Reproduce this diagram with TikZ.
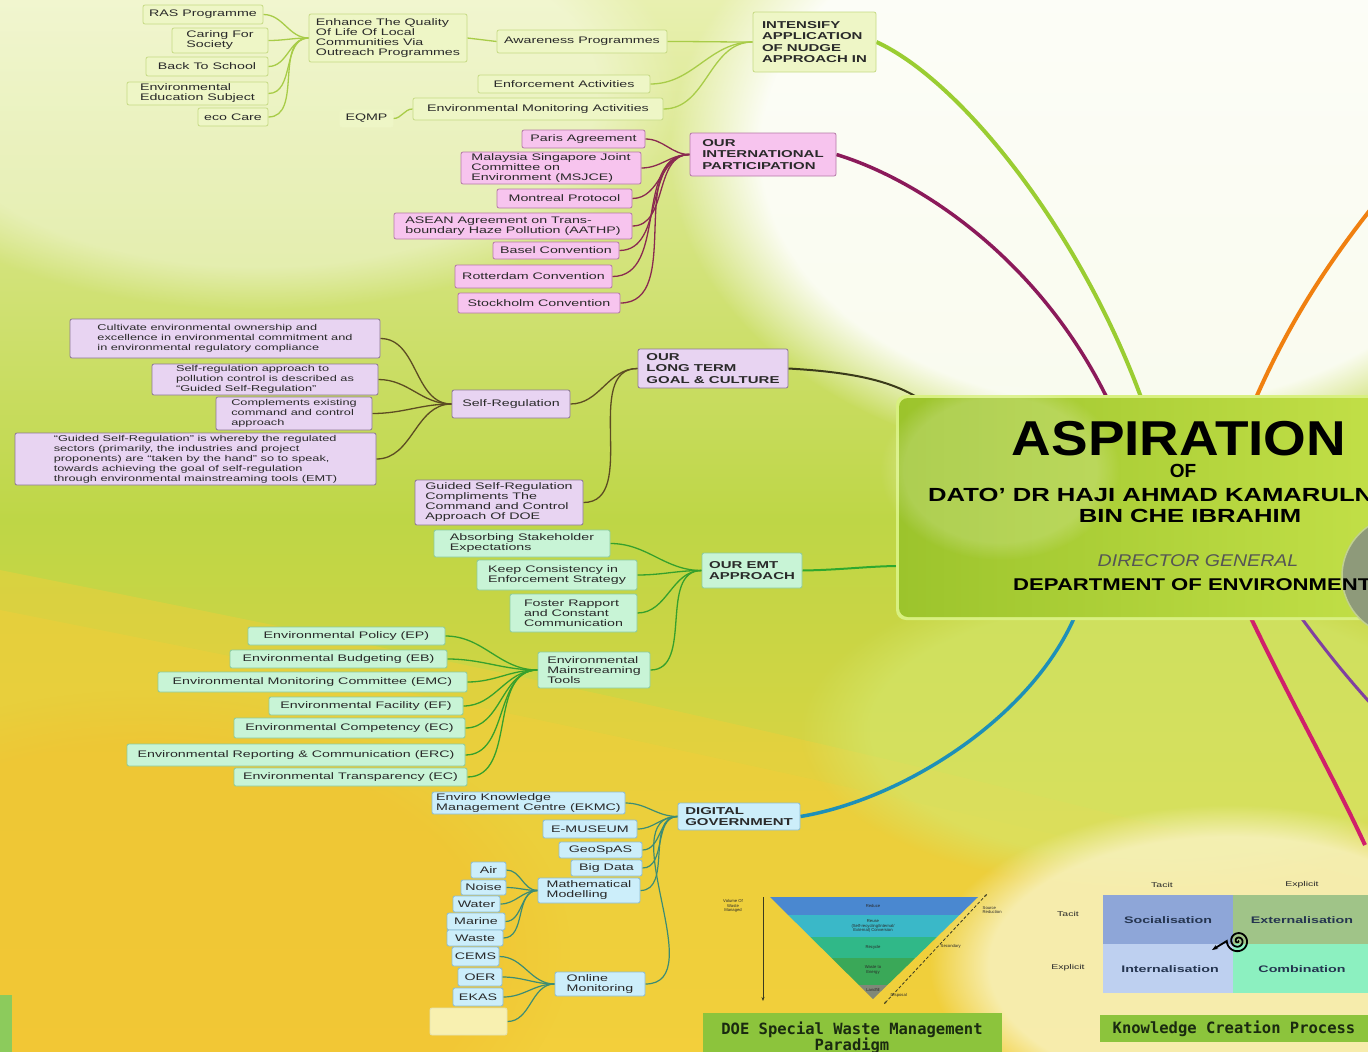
\documentclass[tikz,border=0pt]{standalone}
\usepackage{fontspec}
\setmainfont{Liberation Sans}
\newfontfamily\boxfont[FakeStretch=1.5]{Liberation Sans}
\newfontfamily\monob{DejaVu Sans Mono}
\usetikzlibrary{fadings,arrows.meta}
\pgfdeclarelayer{bg}
\pgfsetlayers{bg,main}
\definecolor{bgTop}{HTML}{E8F0B0}
\definecolor{bgMid}{HTML}{BED646}
\definecolor{bgBot}{HTML}{F4D23E}
\definecolor{yelB}{HTML}{F3CE3A}
\definecolor{orangeT}{HTML}{F2C030}
\definecolor{lgreenT}{HTML}{D4E870}
\definecolor{creamT}{HTML}{F8F2C0}
\definecolor{barG}{HTML}{8CCB5C}
\definecolor{blankF}{HTML}{F8F0B0}
\definecolor{blankD}{HTML}{E2E2B4}
\definecolor{brNudge}{HTML}{9ACD32}
\definecolor{brIntl}{HTML}{8B1A5A}
\definecolor{brLong}{HTML}{3A3A1A}
\definecolor{brEmt}{HTML}{2EA82E}
\definecolor{brDig}{HTML}{1E90B8}
\definecolor{brOr}{HTML}{F08010}
\definecolor{brRed}{HTML}{D0206A}
\definecolor{brPur}{HTML}{8040A0}
\definecolor{cBorder}{HTML}{D8F080}
\definecolor{cLeft}{HTML}{9CC42C}
\definecolor{cRight}{HTML}{C6E24A}
\definecolor{circF}{HTML}{8E9A7A}
\definecolor{circD}{HTML}{C0D090}
\definecolor{dgText}{HTML}{555555}
\definecolor{pyA}{HTML}{4A88D0}
\definecolor{pyB}{HTML}{3AB8C8}
\definecolor{pyC}{HTML}{30B888}
\definecolor{pyD}{HTML}{3AA858}
\definecolor{pyE}{HTML}{808878}
\definecolor{arrowc}{HTML}{3A3A20}
\definecolor{banText}{HTML}{1A2A10}
\definecolor{kcA}{HTML}{8EA6D8}
\definecolor{kcB}{HTML}{A0C488}
\definecolor{kcC}{HTML}{BED0F0}
\definecolor{kcD}{HTML}{8CF0C0}
\definecolor{kcText}{HTML}{253550}
\definecolor{gfill}{HTML}{EEF6C6}
\definecolor{gdraw}{HTML}{C6DA84}
\definecolor{gl}{HTML}{A8CC48}
\definecolor{pfill}{HTML}{F7C4EE}
\definecolor{pdraw}{HTML}{B47AA6}
\definecolor{pl}{HTML}{8A2A50}
\definecolor{lfill}{HTML}{E8D4F2}
\definecolor{ldraw}{HTML}{8C7894}
\definecolor{ll}{HTML}{5C4C22}
\definecolor{tfill}{HTML}{C8F4D6}
\definecolor{tdraw}{HTML}{8CCB9C}
\definecolor{tl}{HTML}{36A02C}
\definecolor{bfill}{HTML}{CCEEFA}
\definecolor{bdraw}{HTML}{8CBCD2}
\definecolor{bl}{HTML}{3C8C74}
\definecolor{txt}{HTML}{2A2A2A}
\definecolor{banner}{HTML}{8CC43C}
\tikzset{
  mbox/.style={draw, rounded corners=2pt, inner sep=1.5pt, align=left, text=txt,
    line width=0.8pt, font=\boxfont\fontsize{9.5}{10}\selectfont},
  gbox/.style={mbox, fill=gfill, draw=gdraw},
  pbox/.style={mbox, fill=pfill, draw=pdraw},
  lbox/.style={mbox, fill=lfill, draw=ldraw},
  lsmall/.style={lbox, font=\boxfont\fontsize{8.5}{10}\selectfont},
  tbox/.style={mbox, fill=tfill, draw=tdraw},
  bbox/.style={mbox, fill=bfill, draw=bdraw},
  head/.style={font=\boxfont\bfseries\fontsize{10}{11.5}\selectfont},
  gline/.style={draw=gl, line width=1.3pt},
  pline/.style={draw=pl, line width=1.3pt},
  lline/.style={draw=ll, line width=1.3pt},
  tline/.style={draw=tl, line width=1.3pt},
  bline/.style={draw=bl, line width=1.2pt},
  conn/.style={out=0, in=180},
  tiny/.style={font=\fontsize{4.2}{4.8}\selectfont, align=center, inner sep=0.5pt, text=txt},
  kclab/.style={font=\boxfont\fontsize{7}{8}\selectfont, text=txt, inner sep=0.5pt},
  kccell/.style={font=\boxfont\bfseries\fontsize{9.5}{10}\selectfont, text=kcText, inner sep=0pt}
}
\begin{document}
\begin{tikzpicture}[x=1pt,y=-1pt]
\useasboundingbox (0,0) rectangle (1368,1052);
\clip (0,0) rectangle (1368,1052);
% ---------- background ----------
\begin{pgfonlayer}{bg}
\fill[top color=bgTop, bottom color=bgMid] (0,0) rectangle (1368,520);
\fill[top color=bgMid, bottom color=bgBot] (0,520) rectangle (1368,1052);
\fill[white, opacity=0.9, path fading=circle with fuzzy edge 20 percent] (1130,150) ellipse (460 and 320);
\fill[white, opacity=0.4, path fading=circle with fuzzy edge 20 percent] (260,90) ellipse (420 and 220);
\fill[yelB, opacity=0.45] (0,570) .. controls (400,650) and (800,730) .. (1368,880) -- (1368,1052) -- (0,1052) -- cycle;
\fill[yelB, opacity=0.45] (0,610) .. controls (400,690) and (800,770) .. (1368,910) -- (1368,1052) -- (0,1052) -- cycle;
\fill[orangeT, opacity=0.5, path fading=circle with fuzzy edge 20 percent] (150,950) ellipse (420 and 260);
\fill[lgreenT, opacity=0.6, path fading=circle with fuzzy edge 20 percent] (1150,730) ellipse (350 and 160);
\fill[creamT, opacity=0.85, path fading=circle with fuzzy edge 20 percent] (1230,965) ellipse (300 and 160);
\fill[barG] (0,995) rectangle (12,1052);
\end{pgfonlayer}

% ---------- central anchors ----------
\coordinate (cIntl) at (1108,400);
\coordinate (cNudge) at (1142,400);
\coordinate (cLong) at (920,399);
\coordinate (cEmt) at (900,566);
\coordinate (cDig) at (1075,616);
\coordinate (cOr) at (1255,400);
\coordinate (cRed) at (1250,616);
\coordinate (cPur) at (1300,616);
\coordinate (offTop) at (1378,200);
\coordinate (offRed) at (1365,845);
\coordinate (offPur) at (1372,705);

% ---------- green cluster ----------
\node[gbox, minimum width=120, minimum height=19] (ras) at (203,14.5) {RAS Programme};
\node[gbox, minimum width=96, minimum height=25] (caring) at (220,40.5) {Caring For\\Society};
\node[gbox, minimum width=122, minimum height=19] (back) at (207,66.5) {Back To School};
\node[gbox, minimum width=141, minimum height=23] (enved) at (197.5,93.5) {Environmental\\Education Subject};
\node[gbox, minimum width=70, minimum height=18] (eco) at (233,117) {eco Care};
\node[gbox, minimum width=158, minimum height=48] (enhance) at (388,38) {Enhance The Quality\\Of Life Of Local\\Communities Via\\Outreach Programmes};
\node[gbox, minimum width=170, minimum height=23] (aware) at (582,41.5) {Awareness Programmes};
\node[gbox, minimum width=172, minimum height=18] (enforce) at (564,84) {Enforcement Activities};
\node[gbox, minimum width=53, minimum height=17, draw=gfill] (eqmp) at (366.5,118.5) {EQMP};
\node[gbox, minimum width=250, minimum height=22] (envmon) at (538,109) {Environmental Monitoring Activities};
\node[gbox, head, minimum width=123, minimum height=60] (nudge) at (814.5,42) {INTENSIFY\\APPLICATION\\OF NUDGE\\APPROACH IN};

% ---------- pink cluster ----------
\node[pbox, minimum width=123, minimum height=18] (paris) at (583.5,139) {Paris Agreement};
\node[pbox, minimum width=180, minimum height=32] (msjce) at (551,168) {Malaysia Singapore Joint\\Committee on\\Environment (MSJCE)};
\node[pbox, minimum width=135, minimum height=19] (montreal) at (564.5,198.5) {Montreal Protocol};
\node[pbox, minimum width=238, minimum height=26] (aathp) at (513,226) {ASEAN Agreement on Trans-\\boundary Haze Pollution (AATHP)};
\node[pbox, minimum width=126, minimum height=17] (basel) at (556,250.5) {Basel Convention};
\node[pbox, minimum width=157, minimum height=23] (rotter) at (533.5,276.5) {Rotterdam Convention};
\node[pbox, minimum width=162, minimum height=20] (stock) at (539,303) {Stockholm Convention};
\node[pbox, head, minimum width=146, minimum height=43] (intl) at (763,154.5) {OUR\\INTERNATIONAL\\PARTICIPATION};

% ---------- lavender cluster ----------
\node[lsmall, minimum width=310, minimum height=39] (cultivate) at (225,338.5) {Cultivate environmental ownership and\\excellence in environmental commitment and\\in environmental regulatory compliance};
\node[lsmall, minimum width=226, minimum height=31] (selfapp) at (265,379.5) {Self-regulation approach to\\pollution control is described as\\“Guided Self-Regulation”};
\node[lsmall, minimum width=156, minimum height=33] (compl) at (294,413.5) {Complements existing\\command and control\\approach};
\node[lsmall, minimum width=361, minimum height=52] (gsr) at (195.5,459) {“Guided Self-Regulation” is whereby the regulated\\sectors (primarily, the industries and project\\proponents) are “taken by the hand” so to speak,\\towards achieving the goal of self-regulation\\through environmental mainstreaming tools (EMT)};
\node[lbox, minimum width=118, minimum height=28] (selfreg) at (511,404) {Self-Regulation};
\node[lbox, head, minimum width=150, minimum height=39] (longterm) at (713,368.5) {OUR\\LONG TERM\\GOAL \& CULTURE};
\node[lbox, minimum width=168, minimum height=45] (gsrdoe) at (499,502.5) {Guided Self-Regulation\\Compliments The\\Command and Control\\Approach Of DOE};

% ---------- mint cluster ----------
\node[tbox, minimum width=176, minimum height=27] (absorb) at (522,543.5) {Absorbing Stakeholder\\Expectations};
\node[tbox, minimum width=160, minimum height=30] (keep) at (557,575) {Keep Consistency in\\Enforcement Strategy};
\node[tbox, minimum width=127, minimum height=38] (foster) at (573.5,613) {Foster Rapport\\and Constant\\Communication};
\node[tbox, head, minimum width=100, minimum height=35] (emt) at (752,570.5) {OUR EMT\\APPROACH};
\node[tbox, minimum width=112, minimum height=36] (emtools) at (594,670) {Environmental\\Mainstreaming\\Tools};
\node[tbox, minimum width=197, minimum height=18] (ep) at (346.5,636) {Environmental Policy (EP)};
\node[tbox, minimum width=217, minimum height=18] (eb) at (338.5,659) {Environmental Budgeting (EB)};
\node[tbox, minimum width=309, minimum height=20] (emc) at (312.5,682) {Environmental Monitoring Committee (EMC)};
\node[tbox, minimum width=194, minimum height=18] (ef) at (366,706) {Environmental Facility (EF)};
\node[tbox, minimum width=231, minimum height=20] (ec) at (349.5,728) {Environmental Competency (EC)};
\node[tbox, minimum width=338, minimum height=22] (erc) at (296,755) {Environmental Reporting \& Communication (ERC)};
\node[tbox, minimum width=233, minimum height=18] (et) at (350.5,777) {Environmental Transparency (EC)};

% ---------- blue cluster ----------
\node[bbox, minimum width=193, minimum height=22] (ekmc) at (528.5,803) {Enviro Knowledge\\Management Centre (EKMC)};
\node[bbox, minimum width=94, minimum height=18] (emuseum) at (590,829) {E-MUSEUM};
\node[bbox, minimum width=83, minimum height=16] (geospas) at (600.5,850) {GeoSpAS};
\node[bbox, minimum width=71, minimum height=16] (bigdata) at (606.5,868) {Big Data};
\node[bbox, minimum width=102, minimum height=25] (math) at (589,890.5) {Mathematical\\Modelling};
\node[bbox, minimum width=35, minimum height=16] (air) at (488.5,870) {Air};
\node[bbox, minimum width=45, minimum height=15] (noise) at (483.5,887.5) {Noise};
\node[bbox, minimum width=47, minimum height=16] (water) at (476.5,904) {Water};
\node[bbox, minimum width=58, minimum height=17] (marine) at (476,921.5) {Marine};
\node[bbox, minimum width=56, minimum height=16] (waste) at (475,938) {Waste};
\node[bbox, minimum width=47, minimum height=19] (cems) at (475.5,956.5) {CEMS};
\node[bbox, minimum width=44, minimum height=18] (oer) at (480,977) {OER};
\node[bbox, minimum width=50, minimum height=18] (ekas) at (478,997) {EKAS};
\node[mbox, fill=blankF, draw=blankD, minimum width=77, minimum height=27] (blank) at (468.5,1021.5) {};
\node[bbox, minimum width=90, minimum height=24] (online) at (600,984) {Online\\Monitoring};
\node[bbox, head, minimum width=122, minimum height=27] (digital) at (739,816.5) {DIGITAL\\GOVERNMENT};

% ---------- connectors (behind nodes) ----------
\begin{pgfonlayer}{bg}
\foreach \c in {ras,caring,back,enved,eco} \draw[gline] (\c.east) to[conn] (enhance.west);
\draw[gline] (enhance.east) -- (aware.west);
\draw[gline] (aware.east) to[conn] (nudge.west);
\draw[gline] (enforce.east) to[conn] (nudge.west);
\draw[gline] (envmon.east) to[conn] (nudge.west);
\draw[gline] (eqmp.east) to[conn] (envmon.west);
\foreach \c in {paris,msjce,montreal,aathp,basel,rotter,stock} \draw[pline] (\c.east) to[conn] (intl.west);
\foreach \c in {cultivate,selfapp,compl,gsr} \draw[lline] (\c.east) to[conn] (selfreg.west);
\draw[lline] (selfreg.east) to[conn] (longterm.west);
\draw[lline] (gsrdoe.east) to[conn] (longterm.west);
\foreach \c in {absorb,keep,foster,emtools} \draw[tline] (\c.east) to[conn] (emt.west);
\foreach \c in {ep,eb,emc,ef,ec,erc,et} \draw[tline] (\c.east) to[conn] (emtools.west);
\foreach \c in {ekmc,emuseum,geospas,bigdata,math,online} \draw[bline] (\c.east) to[conn] (digital.west);
\foreach \c in {air,noise,water,marine,waste} \draw[bline] (\c.east) to[conn] (math.west);
\foreach \c in {cems,oer,ekas,blank} \draw[bline] (\c.east) to[conn] (online.west);
% main branches
\draw[draw=brNudge, line width=4pt] (nudge.east) .. controls (960,80) and (1080,230) .. (cNudge);
\draw[draw=brIntl, line width=3.5pt] (intl.east) .. controls (920,180) and (1040,260) .. (cIntl);
\draw[draw=brLong, line width=2pt] (longterm.east) .. controls (850,372) and (890,380) .. (cLong);
\draw[draw=brEmt, line width=2pt] (emt.east) .. controls (840,570) and (870,566) .. (cEmt);
\draw[draw=brDig, line width=3.5pt] (digital.east) .. controls (900,800) and (1030,720) .. (cDig);
\draw[draw=brOr, line width=4pt] (cOr) .. controls (1290,320) and (1330,260) .. (offTop);
\draw[draw=brRed, line width=4pt] (cRed) .. controls (1290,700) and (1330,770) .. (offRed);
\draw[draw=brPur, line width=3pt] (cPur) .. controls (1325,650) and (1345,675) .. (offPur);
\end{pgfonlayer}

% ---------- central box ----------
\fill[cBorder, rounded corners=10pt] (896,395) rectangle (1430,620);
\shade[left color=cLeft, right color=cRight, rounded corners=9pt] (899,398) rectangle (1430,617);
\fill[white, opacity=0.18, path fading=circle with fuzzy edge 20 percent] (1000,470) ellipse (120 and 90);
\filldraw[fill=circF, draw=circD, line width=1.5pt] (1402,576) circle (60);
\node[font=\bfseries\fontsize{49}{49}\selectfont, text=black, inner sep=0pt] (asp) at (1179,439) {\scalebox{1.12}[1]{ASPIRATION}};
\node[font=\bfseries\fontsize{19}{19}\selectfont, text=black, inner sep=0pt] (of) at (1183,471) {OF};
\node[font=\bfseries\fontsize{19}{19}\selectfont, text=black, inner sep=0pt, anchor=base west] (dato) at (928,501) {\scalebox{1.35}[1]{DATO' DR HAJI AHMAD KAMARULNAJUIB}};
\node[font=\bfseries\fontsize{19}{19}\selectfont, text=black, inner sep=0pt] (bin) at (1190,515.5) {\scalebox{1.35}[1]{BIN CHE IBRAHIM}};
\node[font=\itshape\fontsize{17}{17}\selectfont, text=dgText, inner sep=0pt] (dg) at (1198,560.5) {\scalebox{1.15}[1]{DIRECTOR GENERAL}};
\node[font=\bfseries\fontsize{17}{17}\selectfont, text=black, inner sep=0pt, anchor=base west] (doe) at (1013,590) {\scalebox{1.3}[1]{DEPARTMENT OF ENVIRONMENT}};

% ---------- waste pyramid ----------
\begin{scope}
\clip (770,897) -- (978,897) -- (873,999) -- cycle;
\fill[pyA] (760,890) rectangle (990,915);
\fill[pyB] (760,915) rectangle (990,937);
\fill[pyC] (760,937) rectangle (990,958);
\fill[pyD] (760,958) rectangle (990,985);
\fill[pyE] (760,985) rectangle (990,1005);
\end{scope}
\node[tiny] (py1) at (873,906) {Reduce};
\node[tiny] (py2) at (873,926) {Reuse\\(Self-recycling/Internal/\\External) Conversion};
\node[tiny] (py3) at (873,947) {Recycle};
\node[tiny] (py4) at (873,970) {Waste to\\Energy};
\node[tiny] (py5) at (873,990) {Landfill};
\node[tiny] (vol) at (733,906) {Volume Of\\Waste\\Managed};
\coordinate (volA) at (763,897);
\coordinate (volB) at (763,1001);
\draw[arrowc, line width=0.8pt, -{Stealth[length=4pt]}] (volA) -- (volB);
\coordinate (srA) at (884,1004);
\coordinate (srB) at (987,894);
\draw[arrowc, line width=0.8pt, densely dashed, {Stealth[length=3pt]}-{Stealth[length=3pt]}] (srA) -- (srB);
\node[tiny, align=left, anchor=west] (src) at (982,910) {Source\\Reduction};
\node[tiny, anchor=west] (sec) at (940,946) {Secondary};
\node[tiny, anchor=west] (disp) at (890,995) {Disposal};
\fill[banner] (703,1013) rectangle (1002,1060);
\node[font=\monob\bfseries\fontsize{15.5}{16}\selectfont, text=banText, align=center, inner sep=0pt] (wbanner) at (852,1038) {DOE Special Waste Management\\Paradigm};

% ---------- knowledge creation ----------
\node[kclab] (kt1) at (1162,885) {Tacit};
\node[kclab] (ke1) at (1302,885) {Explicit};
\node[kclab] (kt2) at (1068,914) {Tacit};
\node[kclab] (ke2) at (1068,968) {Explicit};
\fill[kcA] (1103,895) rectangle (1233,944);
\fill[kcB] (1233,895) rectangle (1380,944);
\fill[kcC] (1103,944) rectangle (1233,993);
\fill[kcD] (1233,944) rectangle (1380,993);
\node[kccell] (soc) at (1168,920) {Socialisation};
\node[kccell] (ext) at (1302,920) {Externalisation};
\node[kccell] (int) at (1170,969) {Internalisation};
\node[kccell] (comb) at (1302,969) {Combination};
\draw[line width=1.8pt, black, -{Stealth[length=6pt]}] plot[domain=0:900, samples=140, smooth, variable=\t] ({1238+0.0125*\t*cos(\t)}, {941+0.0125*\t*sin(\t)}) -- (1212,950);
\fill[banner] (1100,1015) rectangle (1380,1042);
\node[font=\monob\bfseries\fontsize{15.5}{16}\selectfont, text=banText, inner sep=0pt] (kbanner) at (1234,1029) {Knowledge Creation Process};
\end{tikzpicture}
\end{document}
